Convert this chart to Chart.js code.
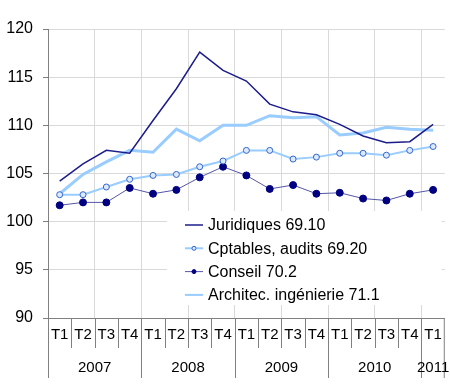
<!DOCTYPE html>
<html>
<head>
<meta charset="utf-8">
<script src="https://cdn.jsdelivr.net/npm/chart.js@4"></script>
<style>
	html, body { margin: 0; padding: 0; background: #fff; }
	#wrap { width: 450px; height: 389px; }
</style>
</head>
<body>
<div id="wrap"><canvas id="chart"></canvas></div>
<script>
// Quarters and years
var quarters = ['T1', 'T2', 'T3', 'T4', 'T1', 'T2', 'T3', 'T4', 'T1', 'T2', 'T3', 'T4', 'T1', 'T2', 'T3', 'T4', 'T1'];
var years = ['2007', '2008', '2009', '2010', '2011'];

// Series values
var juridiques = [104.2, 106.0, 107.4, 107.1, 110.5, 113.8, 117.6, 115.7, 114.6, 112.2, 111.4, 111.1, 110.1, 108.9, 108.2, 108.3, 110.1];
var cptables = [102.8, 102.8, 103.6, 104.4, 104.8, 104.9, 105.7, 106.3, 107.4, 107.4, 106.5, 106.7, 107.1, 107.1, 106.9, 107.4, 107.8];
var conseil = [101.7, 102.0, 102.0, 103.5, 102.9, 103.3, 104.6, 105.7, 104.8, 103.4, 103.8, 102.9, 103.0, 102.4, 102.2, 102.9, 103.3];
var architec = [102.9, 104.9, 106.2, 107.4, 107.2, 109.6, 108.4, 110.0, 110.0, 111.0, 110.8, 110.9, 109.0, 109.2, 109.8, 109.6, 109.5];

var legendLabels = ['Juridiques 69.10', 'Cptables, audits 69.20', 'Conseil 70.2', 'Architec. ingénierie 71.1'];

var font = 'Liberation Sans, Arial, sans-serif';

// Legend drawn inside the plot + year row under the quarters
var extras = {
	id: 'extras',
	afterDraw: function(chart) {
		var c = chart.ctx;
		var xs = chart.scales.x;
		var area = chart.chartArea;
		var w = (area.right - area.left) / quarters.length;
		c.save();
		// separators
		c.strokeStyle = '#808080';
		c.lineWidth = 1;
		for (var i = 0; i <= quarters.length; i++) {
			var x = Math.round(area.left + i * w) + 0.5;
			if (i === quarters.length) x = area.right - 0.5;
			c.beginPath();
			c.moveTo(x, area.bottom);
			c.lineTo(x, area.bottom + (i % 4 === 0 || i === quarters.length ? 60 : 30));
			c.stroke();
		}
		// years
		c.fillStyle = '#000';
		c.font = '15px ' + font;
		c.textAlign = 'center';
		c.textBaseline = 'middle';
		for (var y = 0; y < years.length; y++) {
			var first = y * 4;
			var last = Math.min(first + 3, quarters.length - 1);
			var cx = (xs.getPixelForValue(first) + xs.getPixelForValue(last)) / 2;
			c.fillText(years[y], cx, area.bottom + 50);
		}
		// legend box
		var bx = 167, by = area.top + 182, bw = area.right - 3 - bx, bh = 94;
		c.fillStyle = '#fff';
		c.fillRect(bx, by, bw, bh);
		c.textAlign = 'left';
		c.font = '16px ' + font;
		chart.data.datasets.forEach(function(ds, k) {
			var ly = by + 14 + k * 23.3;
			c.strokeStyle = ds.borderColor;
			c.lineWidth = Math.min(ds.borderWidth, 2);
			c.beginPath();
			c.moveTo(185, ly);
			c.lineTo(203, ly);
			c.stroke();
			if (ds.pointRadius > 0) {
				c.beginPath();
				c.arc(194, ly, 2, 0, Math.PI * 2);
				c.fillStyle = ds.pointBackgroundColor;
				c.fill();
				c.strokeStyle = ds.pointBorderColor;
				c.lineWidth = 1;
				c.stroke();
			}
			c.fillStyle = '#000';
			c.fillText(legendLabels[k], 208, ly + 1);
		});
		c.restore();
	}
};

var ctx = document.getElementById('chart');
var chart = new Chart(ctx, {
	type: 'line',
	data: {
		labels: quarters,
		datasets: [{
			data: juridiques,
			borderColor: '#1c1c8c',
			borderWidth: 1.5,
			pointRadius: 0,
			tension: 0
		}, {
			data: cptables,
			borderColor: '#99ccff',
			borderWidth: 2,
			pointRadius: 3,
			pointBorderColor: '#3366cc',
			pointBackgroundColor: '#dde9ff',
			pointBorderWidth: 1,
			tension: 0
		}, {
			data: conseil,
			borderColor: '#5555aa',
			borderWidth: 1,
			pointRadius: 3.5,
			pointBorderColor: '#000080',
			pointBackgroundColor: '#000080',
			tension: 0
		}, {
			data: architec,
			borderColor: '#99ccff',
			borderWidth: 3,
			pointRadius: 0,
			tension: 0
		}]
	},
	options: {
		responsive: true,
		maintainAspectRatio: false,
		animation: false,
		layout: { padding: { top: 29, right: 2, left: 0, bottom: 0 } },
		plugins: {
			legend: { display: false },
			tooltip: { enabled: false }
		},
		scales: {
			x: {
				offset: true,
				afterFit: function(s) { s.height = 71; },
				grid: {
					offset: true,
					drawTicks: false,
					color: function(c) { return c.index % 2 === 0 && c.index > 0 ? '#d9d9d9' : 'rgba(0,0,0,0)'; }
				},
				border: { color: '#808080' },
				ticks: {
					color: '#000',
					font: { family: font, size: 15 },
					padding: 8,
					autoSkip: false,
					maxRotation: 0
				}
			},
			y: {
				min: 90,
				max: 120,
				afterFit: function(s) { s.width = 48; },
				grid: {
					color: '#d9d9d9',
					tickColor: '#808080',
					tickLength: 5
				},
				border: { color: '#808080' },
				ticks: {
					stepSize: 5,
					color: '#000',
					padding: 10,
					font: { family: font, size: 16 }
				}
			}
		}
	},
	plugins: [extras]
});
</script>
</body>
</html>
